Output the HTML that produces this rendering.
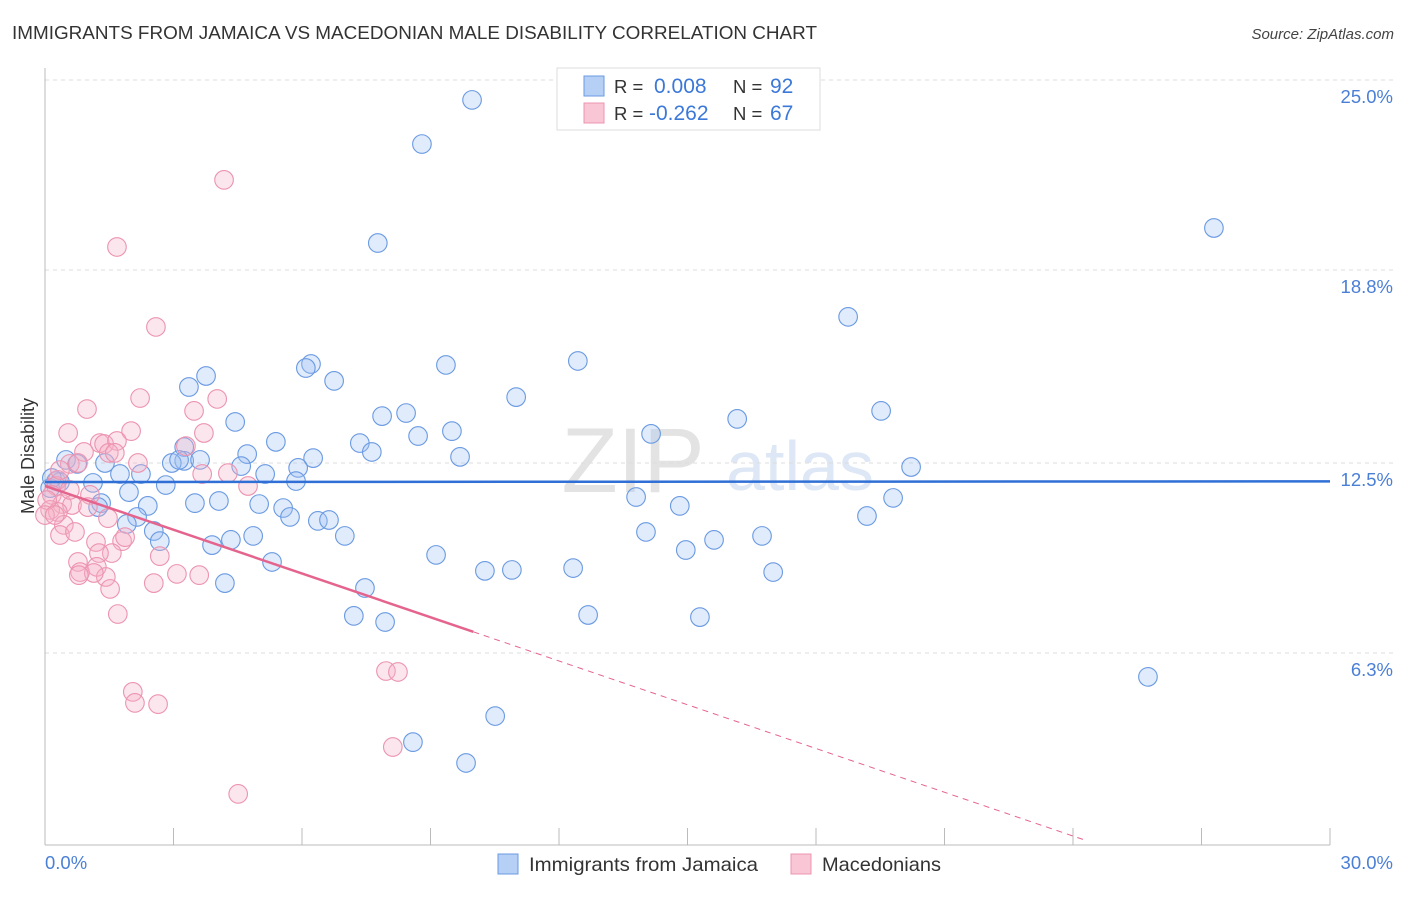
<!DOCTYPE html>
<html><head><meta charset="utf-8"><style>
body{margin:0;background:#fff;font-family:"Liberation Sans",sans-serif;}
svg text{font-family:"Liberation Sans",sans-serif;}
</style></head><body>
<svg id="c" width="1406" height="892"></svg>
<script>
const blueX=[9.97,8.80,27.29,7.77,18.75,12.44,6.21,6.09,9.36,3.36,3.76,6.75,11.00,8.43,7.87,19.52,16.16,4.44,9.50,8.71,14.15,7.35,5.39,7.63,4.72,9.69,3.25,3.25,2.96,3.13,6.26,4.58,5.91,3.62,20.22,0.49,0.75,1.40,2.24,1.75,5.14,5.86,2.82,1.12,0.26,0.12,1.96,13.80,19.80,3.50,4.06,5.00,14.82,5.56,1.31,1.24,2.40,5.72,6.37,6.63,19.19,2.15,1.91,2.54,14.03,7.00,4.86,4.34,2.68,3.90,15.62,16.74,14.96,9.13,5.30,10.27,10.90,12.33,17.00,4.20,7.47,7.21,7.94,12.68,15.29,25.75,10.51,8.59,9.83,0.35,0.16];
const blueY=[24.35,22.91,20.17,19.68,17.27,15.83,15.73,15.60,15.70,14.98,15.34,15.18,14.65,14.13,14.03,14.20,13.94,13.84,13.54,13.38,13.45,13.15,13.19,12.86,12.79,12.70,13.02,12.57,12.50,12.60,12.66,12.40,12.34,12.60,12.37,12.60,12.47,12.50,12.14,12.14,12.14,11.91,11.78,11.85,11.91,11.68,11.55,11.39,11.36,11.19,11.26,11.16,11.10,11.03,11.19,11.06,11.10,10.74,10.61,10.64,10.77,10.74,10.51,10.28,10.25,10.12,10.12,9.99,9.95,9.82,9.99,10.12,9.66,9.50,9.27,8.98,9.01,9.07,8.94,8.58,8.42,7.51,7.31,7.54,7.47,5.52,4.24,3.39,2.71,11.88,12.01];
const pinkX=[4.18,1.68,2.59,2.22,4.02,0.98,3.48,0.54,2.01,3.71,1.28,1.38,1.68,1.49,0.91,1.63,2.17,3.29,0.58,0.77,4.27,3.67,4.74,0.30,0.26,1.05,0.16,0.40,0.63,0.12,0.30,1.00,1.47,0.44,0.35,0.70,1.80,1.87,1.19,1.56,1.26,2.68,0.77,0.82,1.21,1.42,1.14,0.79,3.08,3.60,2.54,1.52,1.70,7.96,8.24,2.05,2.10,2.64,8.12,4.51,0.05,0.0,0.23,0.58,0.35];
const pinkY=[21.74,19.55,16.94,14.62,14.59,14.26,14.20,13.48,13.54,13.48,13.15,13.12,13.22,12.83,12.86,12.83,12.50,13.05,12.47,12.50,12.17,12.14,11.75,11.95,11.75,11.46,11.46,11.16,11.13,10.97,10.90,11.06,10.70,10.48,10.15,10.25,9.95,10.08,9.92,9.56,9.56,9.46,9.27,8.94,9.11,8.78,8.91,8.84,8.88,8.84,8.58,8.39,7.57,5.71,5.68,5.03,4.67,4.63,3.23,1.70,11.29,10.80,10.80,11.62,12.27];
const yTicks=[25.0,18.8,12.5,6.3];
const blueTrend=[11.88,11.90];
const pinkTrend=[11.75,-0.476];

const svg=document.getElementById('c');
const NS='http://www.w3.org/2000/svg';
const X=v=>45+v/30*1285;
const Y=v=>80+(25-v)*30.64;
function el(t,a,p){const e=document.createElementNS(NS,t);for(const k in a)e.setAttribute(k,a[k]);(p||svg).appendChild(e);return e;}
function tx(s,a){const e=el('text',a);e.textContent=s;return e;}

let t=tx('IMMIGRANTS FROM JAMAICA VS MACEDONIAN MALE DISABILITY CORRELATION CHART',{x:12,y:39,'font-size':18.5,fill:'#333',textLength:805,lengthAdjust:'spacingAndGlyphs'});


t=tx('Source: ZipAtlas.com',{x:1394,y:39,'font-size':15,fill:'#444','text-anchor':'end','font-style':'italic'});


t=tx('ZIP',{x:633,y:492,'font-size':92,fill:'#e3e3e3','text-anchor':'middle','font-family':'Liberation Serif'});


t=tx('atlas',{x:800,y:490,'font-size':70,fill:'#dde7f5','text-anchor':'middle'});



yTicks.forEach(v=>{
  const g=el('line',{x1:45,x2:1395,y1:Y(v),y2:Y(v),stroke:'#ddd','stroke-dasharray':'4,4'});
  
  
  const l=tx(v.toFixed(1)+'%',{x:1393,y:Y(v)+23,'font-size':18.5,fill:'#4a7fd6','text-anchor':'end'});
  
  
});
let a=el('line',{x1:45,x2:45,y1:68,y2:845,stroke:'#bbb'});


a=el('line',{x1:45,x2:1330,y1:845,y2:845,stroke:'#bbb'});


for(let i=0;i<=10;i++){
  const k=el('line',{x1:X(i*3),x2:X(i*3),y1:828,y2:845,stroke:'#bbb'});
  
  
}
t=tx('0.0%',{x:45,y:869,'font-size':18.5,fill:'#4a7fd6'});


t=tx('30.0%',{x:1393,y:869,'font-size':18.5,fill:'#4a7fd6','text-anchor':'end'});


t=tx('Male Disability',{x:34,y:456,'font-size':18,fill:'#333','text-anchor':'middle',transform:'rotate(-90 34 456)'});



blueX.forEach((v,i)=>{
  const c=el('circle',{cx:X(v),cy:Y(blueY[i]),r:9.3,fill:'rgba(160,192,242,0.32)',stroke:'#6a9ae2','stroke-width':1.1});
  
  
});
pinkX.forEach((v,i)=>{
  const c=el('circle',{cx:X(v),cy:Y(pinkY[i]),r:9.3,fill:'rgba(246,176,200,0.32)',stroke:'#ec94b0','stroke-width':1.1});
  
  
});
let L=el('line',{x1:X(0),x2:X(30),y1:Y(blueTrend[0]),y2:Y(blueTrend[1]),stroke:'#2f6fd6','stroke-width':2.5});


const pf=v=>pinkTrend[0]+pinkTrend[1]*v;
L=el('line',{x1:X(0),x2:X(10),y1:Y(pf(0)),y2:Y(pf(10)),stroke:'#e5648e','stroke-width':2.5});


L=el('line',{x1:X(10),x2:X(24.3),y1:Y(pf(10)),y2:Y(pf(24.3)),stroke:'#e5648e','stroke-width':1,'stroke-dasharray':'6,5'});



const lg=el('rect',{x:557,y:68,width:263,height:62,fill:'#fff',stroke:'#ddd'});


[[86,'#b6cff5','#6a9ae2','0.008','92'],[113,'#f8c6d4','#ec94b0','-0.262','67']].forEach(r=>{
  const s=el('rect',{x:584,y:r[0]-10,width:20,height:20,fill:r[1],stroke:r[2]});
  
  
  let q=tx('R = ',{x:614,y:r[0]+7,'font-size':18.5,fill:'#333'});
  
  
  q=tx(r[3],{x:r[3].length>5?649:654,y:r[0]+7,'font-size':21,fill:'#3b78d8'});
  
  
  q=tx('N = ',{x:733,y:r[0]+7,'font-size':18.5,fill:'#333'});
  
  
  q=tx(r[4],{x:770,y:r[0]+7,'font-size':21,fill:'#3b78d8'});
  
  
});
[[498,'#b6cff5','#6a9ae2','Immigrants from Jamaica',229],[791,'#f8c6d4','#ec94b0','Macedonians',119]].forEach(r=>{
  const s=el('rect',{x:r[0],y:854,width:20,height:20,fill:r[1],stroke:r[2]});
  
  
  const q=tx(r[3],{x:r[0]+31,y:871,'font-size':19.5,fill:'#333',textLength:r[4],lengthAdjust:'spacingAndGlyphs'});
  
  
});
</script>
</body></html>
